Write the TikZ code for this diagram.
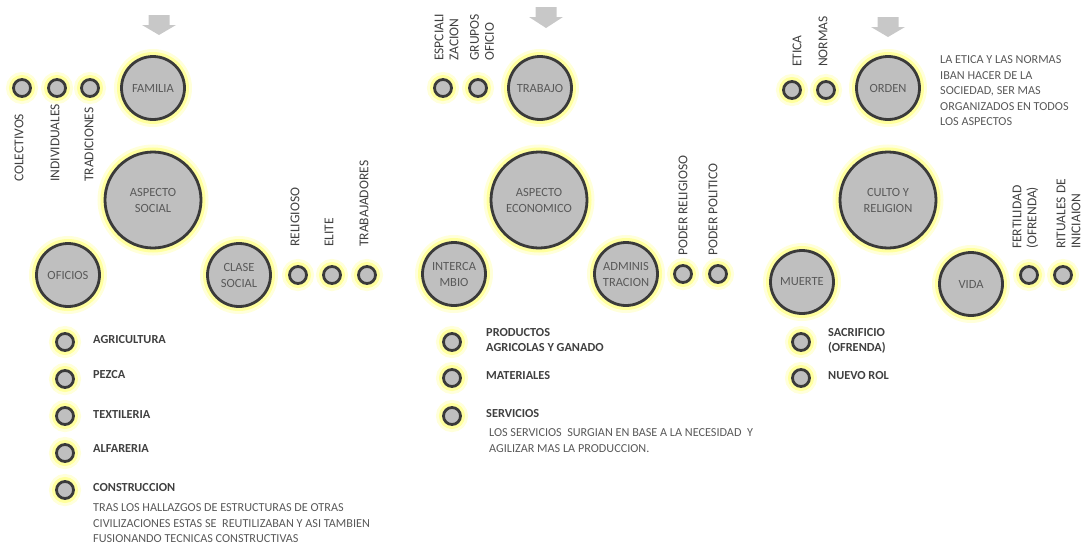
\documentclass[tikz,border=0pt]{standalone}
\usepackage{fontspec}
\setmainfont{Carlito}
\definecolor{cfill}{HTML}{BFBFBF}
\definecolor{cdraw}{HTML}{3A3A3A}
\definecolor{ctext}{HTML}{595959}
\definecolor{ltext}{HTML}{404040}
\definecolor{glowc}{HTML}{FFFF55}
\definecolor{arrowc}{HTML}{C8C8C8}
\tikzset{
  glow/.style={preaction={draw=glowc, line width=15, draw opacity=0.22},
               preaction={draw=glowc, line width=9, draw opacity=0.45}},
  bub/.style={circle, fill=cfill, draw=cdraw, line width=2.8, glow, text=ctext,
              align=center, inner sep=0, font=\fontsize{12.5}{16}\selectfont},
  bigbub/.style={bub, minimum size=96},
  medbub/.style={bub, minimum size=63},
  dot/.style={circle, fill=cfill, draw=cdraw, line width=2.8, glow, inner sep=0, minimum size=17},
  vlab/.style={rotate=90, anchor=west, inner sep=0, text=ltext, align=left,
               font=\fontsize{13.5}{15}\selectfont},
  blab/.style={anchor=west, inner sep=0, text=ltext, align=left,
               font=\fontsize{12.3}{15}\selectfont\bfseries},
  para/.style={anchor=north west, inner sep=0, text=ctext, align=left,
               font=\fontsize{12.2}{15.5}\selectfont},
  downarrow/.style={fill=arrowc}
}
\begin{document}
\begin{tikzpicture}[x=1pt,y=-1pt]
\useasboundingbox (0,0) rectangle (1084,546);
% arrows
\fill[downarrow] (148.5,15) -- (169.5,15) -- (169.5,25) -- (176,25) -- (159,35) -- (142,25) -- (148.5,25) -- cycle;
\fill[downarrow] (535.5,7) -- (556.5,7) -- (556.5,17) -- (563,17) -- (546,28) -- (529,17) -- (535.5,17) -- cycle;
\fill[downarrow] (877.5,17) -- (898.5,17) -- (898.5,27) -- (905,27) -- (888,37) -- (871,27) -- (877.5,27) -- cycle;

% ---------- Section 1 ----------
\node[medbub] (fam) at (153,88) {FAMILIA};
\node[bigbub] (soc) at (153,200) {ASPECTO\\SOCIAL};
\node[medbub] (ofi) at (68,275) {OFICIOS};
\node[medbub] (cla) at (239,275) {CLASE\\SOCIAL};
\node[dot] (col) at (22,88) {};
\node[dot] (ind) at (57,88) {};
\node[dot] (tra) at (90,88) {};
\node[vlab] (lcol) at (19,182) {COLECTIVOS};
\node[vlab] (lind) at (55,182) {INDIVIDUALES};
\node[vlab] (ltra) at (89,182) {TRADICIONES};
\node[dot] (rel) at (298,275) {};
\node[dot] (eli) at (332,275) {};
\node[dot] (trb) at (367,275) {};
\node[vlab] (lrel) at (295,247) {RELIGIOSO};
\node[vlab] (leli) at (329,247) {ELITE};
\node[vlab] (ltrb) at (364,247) {TRABAJADORES};
\node[dot] (a1) at (65,342) {};
\node[dot] (a2) at (65,379) {};
\node[dot] (a3) at (65,416) {};
\node[dot] (a4) at (65,453) {};
\node[dot] (a5) at (65,490) {};
\node[blab] (la1) at (93,340) {AGRICULTURA};
\node[blab] (la2) at (93,375) {PEZCA};
\node[blab] (la3) at (93,415) {TEXTILERIA};
\node[blab] (la4) at (93,449) {ALFARERIA};
\node[blab] (la5) at (93,488) {CONSTRUCCION};
\node[para] (pa1) at (93,503.5) {TRAS LOS HALLAZGOS DE ESTRUCTURAS DE OTRAS\\CIVILIZACIONES ESTAS SE\ \ REUTILIZABAN Y ASI TAMBIEN\\FUSIONANDO TECNICAS CONSTRUCTIVAS};

% ---------- Section 2 ----------
\node[medbub] (tjo) at (540,88) {TRABAJO};
\node[bigbub] (eco) at (539,200) {ASPECTO\\ECONOMICO};
\node[medbub] (int) at (454,274) {INTERCA\\MBIO};
\node[medbub] (adm) at (626,274) {ADMINIS\\TRACION};
\node[dot] (esp) at (443,88) {};
\node[dot] (gru) at (478,88) {};
\node[vlab] (lesp) at (446.5,61) {ESPCIALI\\ZACION};
\node[vlab] (lgru) at (482,61) {GRUPOS\\OFICIO};
\node[dot] (prl) at (683,274) {};
\node[dot] (ppo) at (718,274) {};
\node[vlab] (lprl) at (683,256) {PODER RELIGIOSO};
\node[vlab] (lppo) at (713,256) {PODER POLITICO};
\node[dot] (b1) at (452,342) {};
\node[dot] (b2) at (452,378) {};
\node[dot] (b3) at (452,416) {};
\node[blab] (lb1) at (486,340.5) {PRODUCTOS\\AGRICOLAS Y GANADO};
\node[blab] (lb2) at (486,376) {MATERIALES};
\node[blab] (lb3) at (486,414) {SERVICIOS};
\node[para] (pb3) at (489,428.5) {LOS SERVICIOS\ \ SURGIAN EN BASE A LA NECESIDAD\ \ Y\\AGILIZAR MAS LA PRODUCCION.};

% ---------- Section 3 ----------
\node[medbub] (ord) at (888,88) {ORDEN};
\node[bigbub] (cul) at (888,200) {CULTO Y\\RELIGION};
\node[medbub] (mue) at (802,282) {MUERTE};
\node[medbub] (vid) at (971,284) {VIDA};
\node[dot] (eti) at (792,90) {};
\node[dot] (nor) at (826,90) {};
\node[vlab] (leti) at (797,67) {ETICA};
\node[vlab] (lnor) at (823,67) {NORMAS};
\node[para] (pord) at (940,55.5) {LA ETICA Y LAS NORMAS\\IBAN HACER DE LA\\SOCIEDAD, SER MAS\\ORGANIZADOS EN TODOS\\LOS ASPECTOS};
\node[dot] (fer) at (1029,275) {};
\node[dot] (rit) at (1063,275) {};
\node[vlab] (lfer) at (1025.5,249) {FERTILIDAD\\(OFRENDA)};
\node[vlab] (lrit) at (1068.5,249) {RITUALES DE\\INICIAION};
\node[dot] (c1) at (801,342) {};
\node[dot] (c2) at (801,378) {};
\node[blab] (lc1) at (828,341) {SACRIFICIO\\(OFRENDA)};
\node[blab] (lc2) at (828,376) {NUEVO ROL};
\end{tikzpicture}
\end{document}
